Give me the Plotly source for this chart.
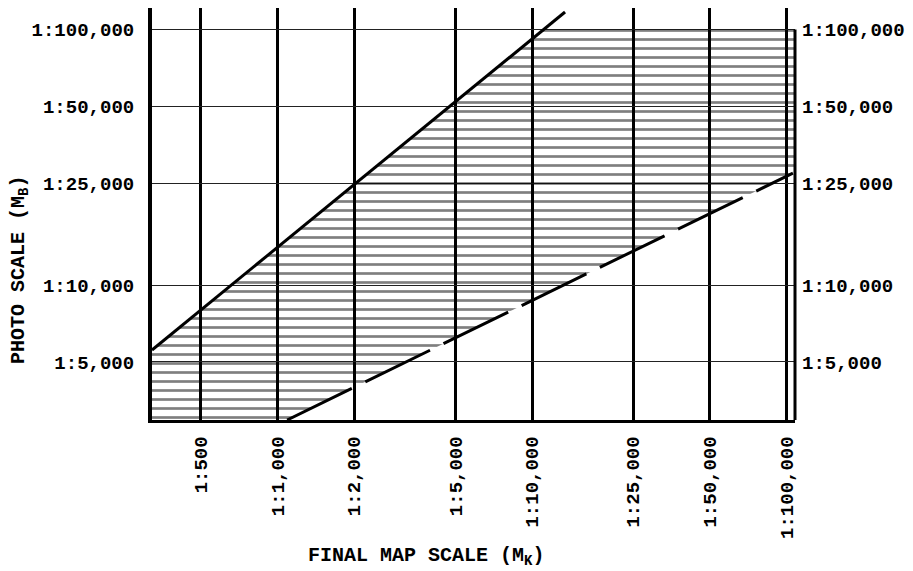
import numpy as np
import plotly.graph_objects as go

# ---- data ----
map_scale_ticks = [500, 1000, 2000, 5000, 10000, 25000, 50000, 100000]
map_tick_labels = ["1:500", "1:1,000", "1:2,000", "1:5,000", "1:10,000",
                   "1:25,000", "1:50,000", "1:100,000"]
photo_ticks = [5000, 10000, 25000, 50000, 100000]
photo_tick_labels = ["1:5,000", "1:10,000", "1:25,000", "1:50,000", "1:100,000"]

# upper (solid) limit line
upper_map = [321, 13480]
upper_photo = [5570, 117000]
# lower (dashed) limit line
lower_map = [1090, 106000]
lower_photo = [2965, 27400]

# axis extents
x_min, x_max = 321, 108000
y_min, y_max = 2965, 121300
hatch_top = 100000

FONT = "Liberation Mono"


def loginterp(xq, xs, ys):
    lx, ly = np.log10(xs), np.log10(ys)
    slope = (ly[1] - ly[0]) / (lx[1] - lx[0])
    return 10 ** (ly[0] + slope * (np.log10(xq) - lx[0]))


def loginv(yq, xs, ys):
    lx, ly = np.log10(xs), np.log10(ys)
    slope = (ly[1] - ly[0]) / (lx[1] - lx[0])
    return 10 ** (lx[0] + (np.log10(yq) - ly[0]) / slope)


# hatched region between the two lines, clipped to the chart box
x_top = loginv(hatch_top, upper_map, upper_photo)
y_up_left = loginterp(x_min, upper_map, upper_photo)
y_low_right = loginterp(x_max, lower_map, lower_photo)
x_low_bottom = loginv(y_min, lower_map, lower_photo)
poly_x = [x_top, x_max, x_max, x_low_bottom, x_min, x_min, x_top]
poly_y = [hatch_top, hatch_top, y_low_right, y_min, y_min, y_up_left, hatch_top]

fig = go.Figure()
fig.add_trace(go.Scatter(
    x=poly_x, y=poly_y, mode="lines", fill="toself",
    line=dict(width=0, color="rgba(0,0,0,0)"),
    fillcolor="rgba(255,255,255,0)",
    fillpattern=dict(shape="-", size=9, solidity=0.3,
                     fgcolor="#000000", bgcolor="rgba(255,255,255,0)"),
    hoverinfo="skip", showlegend=False))

fig.add_trace(go.Scatter(
    x=upper_map, y=upper_photo, mode="lines",
    line=dict(color="black", width=3), showlegend=False))
fig.add_trace(go.Scatter(
    x=lower_map, y=lower_photo, mode="lines",
    line=dict(color="black", width=3, dash="72px,15px"), showlegend=False))
# anchor trace for the right-hand axis
fig.add_trace(go.Scatter(
    x=[upper_map[0]], y=[upper_photo[0]], yaxis="y2", mode="markers",
    marker=dict(opacity=0), hoverinfo="skip", showlegend=False))

# right border of the chart box
fig.add_shape(type="line", xref="paper", yref="y", x0=1, x1=1,
              y0=y_min, y1=hatch_top, line=dict(color="black", width=3))

tickfont = dict(family=FONT, size=19, color="black", weight="bold")
titlefont = dict(family=FONT, size=20, color="black", weight="bold")

# the page body adds an 8px offset, so the figure is sized to fit the window
fig.update_layout(
    width=905, height=563,
    margin=dict(l=144, r=118, t=0, b=151, autoexpand=False),
    paper_bgcolor="white", plot_bgcolor="white",
    showlegend=False,
    xaxis=dict(type="log", range=[np.log10(x_min), np.log10(x_max)],
               tickvals=map_scale_ticks, ticktext=map_tick_labels,
               tickangle=-90, tickfont=tickfont, ticks="",
               ticklabelstandoff=6, automargin=False,
               showgrid=True, gridcolor="black", gridwidth=3,
               showline=True, linecolor="black", linewidth=2.5,
               zeroline=False),
    yaxis=dict(type="log", range=[np.log10(y_min), np.log10(y_max)],
               tickvals=photo_ticks, ticktext=photo_tick_labels,
               tickfont=tickfont, ticks="", ticklabelstandoff=10,
               automargin=False,
               showgrid=True, gridcolor="#222", gridwidth=1.3,
               showline=True, linecolor="black", linewidth=4,
               zeroline=False),
    yaxis2=dict(type="log", range=[np.log10(y_min), np.log10(y_max)],
                overlaying="y", side="right",
                tickvals=photo_ticks, ticktext=photo_tick_labels,
                tickfont=tickfont, ticks="", ticklabelstandoff=6,
                automargin=False,
                showgrid=False, showline=False, zeroline=False),
    annotations=[
        dict(text="FINAL MAP SCALE (M<sub>K</sub>)", xref="paper", yref="paper",
             x=0.426, y=-0.332, xanchor="center", yanchor="middle",
             showarrow=False, font=titlefont),
        dict(text="PHOTO SCALE (M<sub>B</sub>)", xref="paper", yref="paper",
             x=-0.207, y=0.364, xanchor="center", yanchor="middle", textangle=-90,
             showarrow=False, font=titlefont),
    ],
)

fig.write_html("out.html")
